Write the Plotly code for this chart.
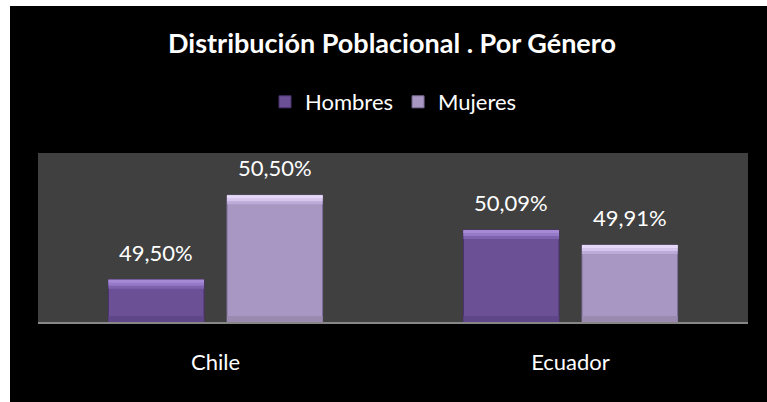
import plotly.graph_objects as go

categories = ["Chile", "Ecuador"]
hombres = [49.50, 50.09]
mujeres = [50.50, 49.91]
series_names = ["Hombres", "Mujeres"]
title_text = "Distribución Poblacional . Por Género"
y_range = [49.0, 51.0]

W, H = 767, 402
ml, mr, mt, mb = 38, 19, 153, 80
plot_w = W - ml - mr
plot_h = H - mt - mb
bargap = 0.332
bargroupgap = 0.194
FONT = "Lato"
unit_px = plot_h / (y_range[1] - y_range[0])


def fmt(v):
    return f"{v:.2f}".replace(".", ",") + "%"


# style per series: main, top bands (outer to inner), bottom band, outline
styles = [
    dict(main="#6b5096", tops=["#a78ad6", "#957ac8", "#7f62ae"], bot="#5f4689", line="#4a336e"),
    dict(main="#a896c3", tops=["#e6d8f8", "#d6c6ee", "#bcabd8"], bot="#9a8ab0", line="#7c6c96"),
]

fig = go.Figure()
for i, (name, vals, st) in enumerate(zip(series_names, [hombres, mujeres], styles)):
    og = str(i)
    fig.add_trace(go.Bar(
        x=categories, y=vals, name=name, offsetgroup=og,
        marker=dict(color=st["main"], line=dict(color=st["line"], width=1)),
    ))
    # bottom bevel band
    d_b = 6 / unit_px
    fig.add_trace(go.Bar(
        x=categories, y=[d_b] * len(vals), base=[y_range[0]] * len(vals),
        offsetgroup=og, showlegend=False, hoverinfo="skip",
        marker=dict(color=st["bot"], line=dict(width=0)),
    ))
    # top bevel bands, drawn from widest (innermost colour) to narrowest
    for k, col in zip([9, 6, 3], reversed(st["tops"])):
        d_t = k / unit_px
        fig.add_trace(go.Bar(
            x=categories, y=[d_t] * len(vals), base=[v - d_t for v in vals],
            offsetgroup=og, showlegend=False, hoverinfo="skip",
            marker=dict(color=col, line=dict(width=0)),
        ))

# data labels
offset = plot_w / len(categories) * (1 - bargap) / 4
annotations = []
for sign, vals in zip([-1, 1], [hombres, mujeres]):
    for cat, v in zip(categories, vals):
        annotations.append(dict(
            x=cat, y=v, xref="x", yref="y", text=fmt(v), showarrow=False,
            xanchor="center", yanchor="bottom", xshift=sign * offset, yshift=12,
            font=dict(family=FONT, size=22, color="#ffffff"),
        ))

px2py = lambda py: (H - mb - py) / plot_h
px2px = lambda px: (px - ml) / plot_w

shapes = [
    dict(type="rect", xref="paper", yref="paper", layer="below",
         x0=px2px(10), x1=px2px(W + 2), y0=px2py(H + 2), y1=px2py(6),
         fillcolor="#000000", line=dict(width=0)),
    dict(type="rect", xref="paper", yref="paper", layer="below",
         x0=0, x1=1, y0=0, y1=1,
         fillcolor="#404040", line=dict(width=0)),
]

fig.update_layout(
    width=W, height=H,
    margin=dict(l=ml, r=mr, t=mt, b=mb, pad=0),
    paper_bgcolor="#ffffff",
    plot_bgcolor="rgba(0,0,0,0)",
    barmode="group", bargap=bargap, bargroupgap=bargroupgap,
    title=dict(text="<b>" + title_text + "</b>", x=392 / W, xref="container", xanchor="center",
               y=1 - 44 / H, yref="container", yanchor="middle",
               font=dict(family=FONT, size=27, color="#ffffff")),
    legend=dict(orientation="h", x=px2px(265), xanchor="left", y=px2py(102), yanchor="middle",
                bgcolor="rgba(0,0,0,0)", font=dict(family=FONT, size=22, color="#ffffff"),
                itemwidth=30),
    showlegend=True,
    annotations=annotations,
    shapes=shapes,
    xaxis=dict(type="category", showgrid=False, zeroline=False, showline=True,
               linecolor="#878787", linewidth=2, ticks="", ticklabelstandoff=20,
               tickfont=dict(family=FONT, size=22, color="#ffffff"), fixedrange=True),
    yaxis=dict(range=y_range, visible=False, showgrid=False, zeroline=False, fixedrange=True),
)

fig.write_html("out.html", config={"displayModeBar": False},
               post_script="document.body.style.margin='0';")
